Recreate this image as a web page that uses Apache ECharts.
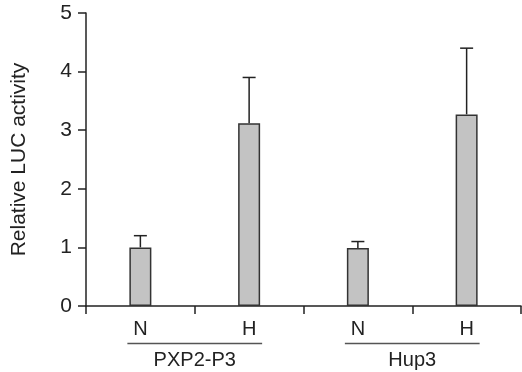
<!DOCTYPE html>
<html>
<head>
<meta charset="utf-8">
<script src="https://cdn.jsdelivr.net/npm/echarts@6/dist/echarts.min.js"></script>
<style>
  html, body { margin: 0; padding: 0; background: #fff; }
  #chart { width: 522px; height: 372px; }
</style>
</head>
<body>
<div id="chart"></div>
<script>
// conditions and groups
const categories = ['N', 'H', 'N', 'H']
const groups = ['PXP2-P3', 'Hup3']
// relative LUC activity, mean and top of the error bar
const means = [1.0, 3.12, 0.99, 3.27]
const upper = [1.2, 3.9, 1.1, 4.4]
const yTicks = [0, 1, 2, 3, 4, 5]

const font = 'Liberation Sans, Arial, sans-serif'
const ink = '#222'

let chart = echarts.init(document.getElementById('chart'))

let option = {
    animation: false,
    grid: { left: 86, right: 1, top: 13, bottom: 66 },
    xAxis: [
        {
            type: 'category',
            data: categories,
            axisLine: { lineStyle: { color: ink, width: 1.5 } },
            axisTick: { show: true, length: 8, lineStyle: { color: ink, width: 1.5 } },
            axisLabel: { color: ink, fontFamily: font, fontSize: 20, margin: 13 }
        },
        {
            type: 'category',
            position: 'bottom',
            offset: 40,
            data: groups,
            axisLine: { show: false },
            axisTick: { show: false },
            axisLabel: { color: ink, fontFamily: font, fontSize: 20, margin: 4 }
        }
    ],
    yAxis: {
        type: 'value',
        min: yTicks[0],
        max: yTicks[yTicks.length - 1],
        interval: 1,
        name: 'Relative LUC activity',
        nameLocation: 'middle',
        nameGap: 56,
        nameTextStyle: { color: ink, fontFamily: font, fontSize: 21 },
        axisLine: { show: true, lineStyle: { color: ink, width: 1.5 } },
        axisTick: { show: true, length: 8, lineStyle: { color: ink, width: 1.5 } },
        axisLabel: { color: ink, fontFamily: font, fontSize: 21, margin: 14 },
        splitLine: { show: false }
    },
    series: [
        {
            type: 'bar',
            data: means,
            barWidth: 22,
            itemStyle: { color: '#c3c3c3', borderColor: '#333', borderWidth: 1.5 }
        },
        {
            type: 'custom',
            data: upper.map((u, i) => [i, means[i], u]),
            renderItem: function (params, api) {
                let base = api.coord([api.value(0), api.value(1)])
                let top = api.coord([api.value(0), api.value(2)])
                let half = 6.5
                return {
                    type: 'group',
                    children: [
                        { type: 'line', shape: { x1: base[0], y1: base[1], x2: top[0], y2: top[1] }, style: { stroke: ink, lineWidth: 1.5 } },
                        { type: 'line', shape: { x1: top[0] - half, y1: top[1], x2: top[0] + half, y2: top[1] }, style: { stroke: ink, lineWidth: 1.5 } }
                    ]
                }
            },
            z: 1
        }
    ]
}
chart.setOption(option)

// group underlines, placed from the category axis
let lines = []
for (let g = 0; g < groups.length; g++) {
    let a = chart.convertToPixel({ xAxisIndex: 0 }, 2 * g)
    let b = chart.convertToPixel({ xAxisIndex: 0 }, 2 * g + 1)
    let y = chart.convertToPixel({ yAxisIndex: 0 }, 0) + 37.5
    lines.push({
        type: 'line',
        shape: { x1: a - 13, y1: y, x2: b + 13, y2: y },
        style: { stroke: '#555', lineWidth: 1.5 }
    })
}
chart.setOption({ graphic: lines })
</script>
</body>
</html>
